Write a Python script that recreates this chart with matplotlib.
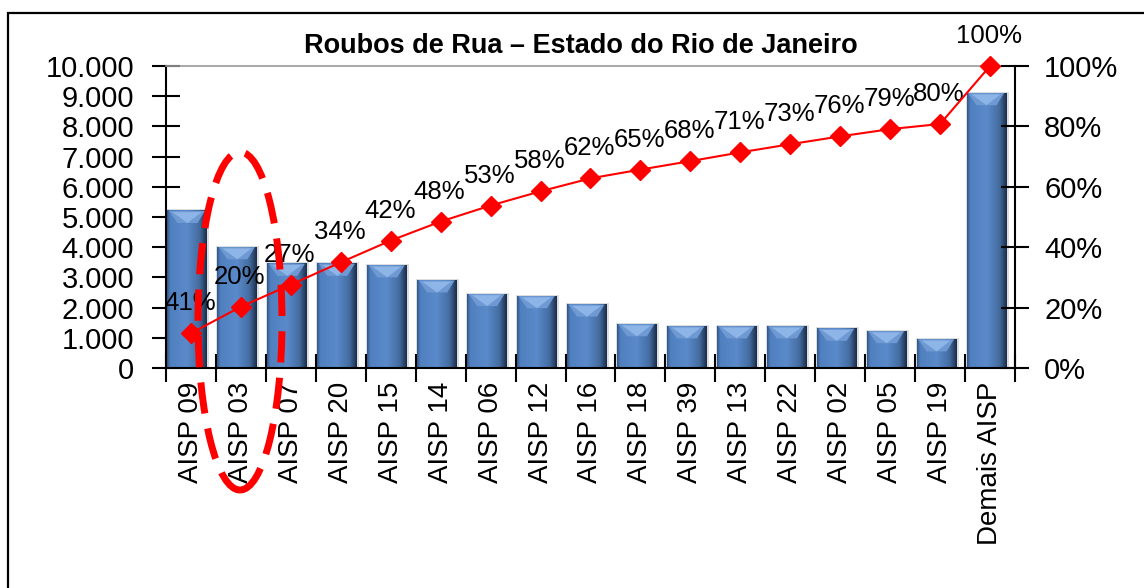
import numpy as np
import matplotlib
matplotlib.use("Agg")
import matplotlib.pyplot as plt
from matplotlib.patches import Ellipse, Rectangle, Polygon
from matplotlib.colors import LinearSegmentedColormap
from matplotlib.ticker import FuncFormatter

plt.rcParams['font.family'] = ['Liberation Sans', 'DejaVu Sans']

# --------- data ---------
categories = ["AISP 09", "AISP 03", "AISP 07", "AISP 20", "AISP 15", "AISP 14",
              "AISP 06", "AISP 12", "AISP 16", "AISP 18", "AISP 39", "AISP 13",
              "AISP 22", "AISP 02", "AISP 05", "AISP 19", "Demais AISP"]
roubos = [5200, 4000, 3450, 3450, 3400, 2900, 2450, 2380, 2100, 1450,
          1380, 1380, 1380, 1300, 1220, 950, 9100]
acumulado = [11.5, 20.3, 27.6, 35.0, 42.2, 48.5, 53.8, 58.5, 62.8, 65.7,
             68.5, 71.4, 74.1, 76.7, 79.1, 80.8, 100.0]
rotulos = ["41%", "20%", "27%", "34%", "42%", "48%", "53%", "58%", "62%",
           "65%", "68%", "71%", "73%", "76%", "79%", "80%", "100%"]

# --------- figure ---------
fig = plt.figure(figsize=(11.44, 5.88), dpi=100)
ax = fig.add_axes([166/1144, 1 - 368/588, (1015 - 166)/1144, (368 - 66)/588])
ax2 = ax.twinx()

x = np.arange(len(categories))
bar_w = 0.8
bar_cmap = LinearSegmentedColormap.from_list(
    "barra", [(0.0, "#34598a"), (0.08, "#5080c0"), (0.5, "#5a8aca"),
              (0.82, "#446ca0"), (1.0, "#1c2e4a")])
grad = np.linspace(0, 1, 64).reshape(1, -1)
bevel = 400

for xi, v in zip(x, roubos):
    x0 = xi - 0.47
    x1 = x0 + bar_w
    # soft shadow
    ax.add_patch(Rectangle((x0 - 0.02, 0), bar_w + 0.06, v + 50,
                           facecolor="#c4c8ce", edgecolor="none", zorder=1.5, alpha=0.6))
    ax.imshow(grad, cmap=bar_cmap, extent=(x0, x1, 0, v), aspect='auto',
              zorder=2, interpolation='bilinear')
    # top bevel
    ax.add_patch(Polygon([(x0 + 0.03, v), (x1 - 0.05, v), (x1 - 0.2, v - bevel), (x0 + 0.2, v - bevel)],
                         closed=True, facecolor="#6e99d2", edgecolor="none", zorder=2.1))
    ax.add_patch(Polygon([(x0 + 0.1, v - 40), (x1 - 0.12, v - 40), (xi - 0.07, v - bevel)],
                         closed=True, facecolor="#8eb5e8", edgecolor="none", zorder=2.2))

ax.set_xlim(-0.5, len(categories) - 0.5)
ax.set_ylim(0, 10000)
ax.set_yticks(np.arange(0, 10001, 1000))
ax.yaxis.set_major_formatter(FuncFormatter(lambda v, p: f"{int(v):,}".replace(",", ".")))
ax.set_xticks(x)
ax.set_xticklabels(categories, rotation=90, fontsize=20)
ax.set_xticks(np.arange(-0.5, len(categories), 1), minor=True)
ax.tick_params(axis='x', which='major', length=0, pad=10)
ax.tick_params(axis='x', which='minor', direction='inout', length=20, width=1.5)
ax.tick_params(axis='y', direction='inout', length=20, width=1.5, labelsize=21, pad=13)

for s in ['left', 'bottom']:
    ax.spines[s].set_linewidth(1.5)
ax.spines['top'].set_color('#999999')
ax.spines['top'].set_linewidth(1.2)
ax.spines['right'].set_visible(False)

# cumulative line
ax2.plot(x, acumulado, color='#ff0000', lw=1.5, marker='D', markersize=10,
         markeredgecolor='#ff0000', zorder=5, clip_on=False)
for xi, yv, t in zip(x, acumulado, rotulos):
    ax2.annotate(t, (xi, yv), xytext=(-1, 30), textcoords='offset pixels',
                 ha='center', va='center', fontsize=18.5)
ax2.set_ylim(0, 100)
ax2.set_yticks(np.arange(0, 101, 20))
ax2.yaxis.set_major_formatter(FuncFormatter(lambda v, p: f"{int(v)}%"))
ax2.tick_params(axis='y', direction='inout', length=20, width=1.5, labelsize=21, pad=11)
ax2.spines['right'].set_linewidth(1.5)
for s in ['top', 'left', 'bottom']:
    ax2.spines[s].set_visible(False)

fig.text(581/1144, 1 - 46/588, "Roubos de Rua \u2013 Estado do Rio de Janeiro",
         ha='center', va='center', fontsize=19.5, fontweight='bold')

# dashed ellipse around AISP 03
fig.patches.append(Ellipse((240/1144, 1 - 321/588), 84/1144, 338/588,
                           transform=fig.transFigure, fill=False, edgecolor='#ff0000',
                           lw=5, linestyle=(0, (4.5, 2.2)), zorder=10))
# outer frame
fig.patches.append(Rectangle((8/1144, -0.1), 1.2, 1.1 - 13/588, transform=fig.transFigure,
                             fill=False, edgecolor='black', lw=1.6, zorder=0))

fig.savefig("out.png", dpi=100)
